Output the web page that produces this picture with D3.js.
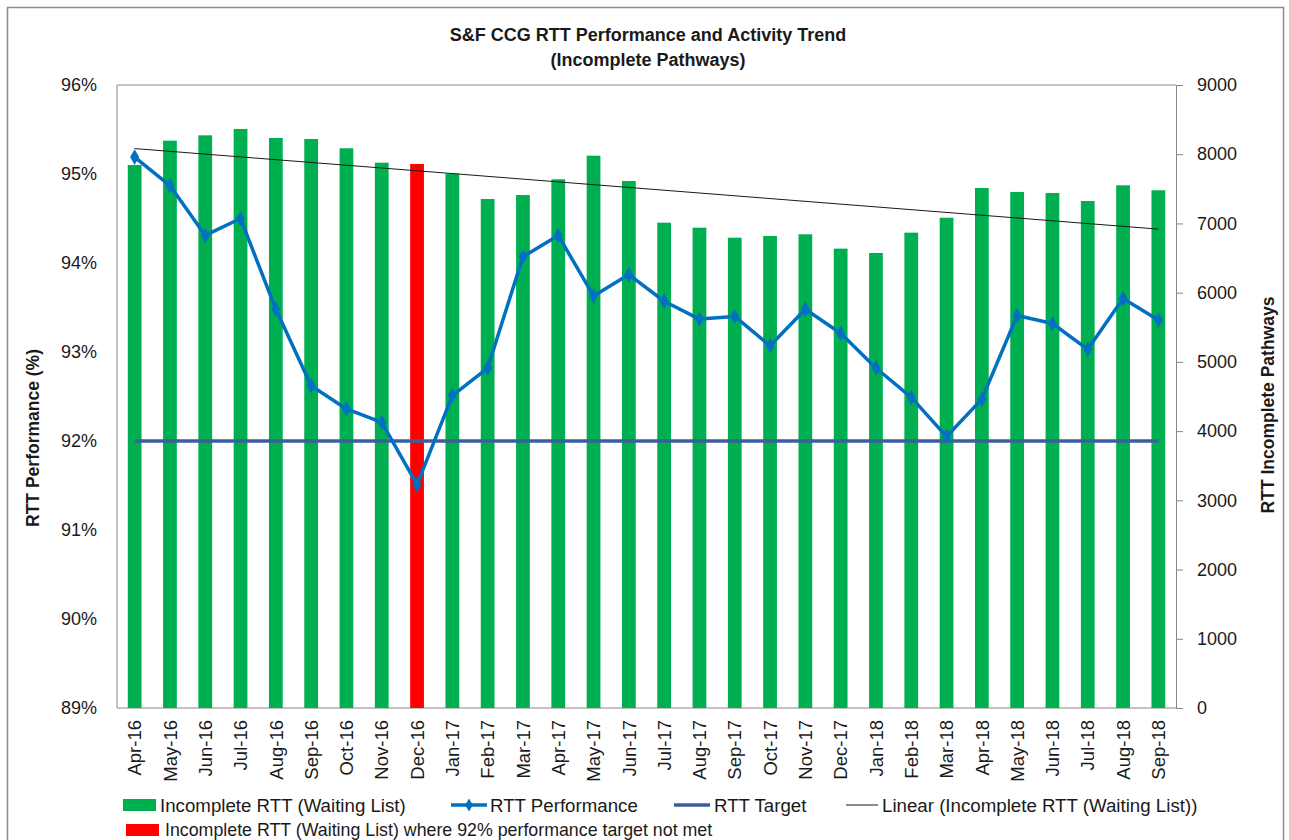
<!DOCTYPE html>
<html>
<head>
<meta charset="utf-8">
<script src="https://cdn.jsdelivr.net/npm/d3@7/dist/d3.min.js"></script>
<style>
  html, body { margin: 0; padding: 0; background: #fff; }
  svg { display: block; font-family: "Liberation Sans", Arial, sans-serif; }
</style>
</head>
<body>
<script>
// ---- Data ----
const categories = ["Apr-16","May-16","Jun-16","Jul-16","Aug-16","Sep-16","Oct-16","Nov-16","Dec-16",
  "Jan-17","Feb-17","Mar-17","Apr-17","May-17","Jun-17","Jul-17","Aug-17","Sep-17","Oct-17","Nov-17","Dec-17",
  "Jan-18","Feb-18","Mar-18","Apr-18","May-18","Jun-18","Jul-18","Aug-18","Sep-18"];
const waitingList = [7844, 8196, 8273, 8365, 8235, 8220, 8086, 7878, 7859, 7719, 7353, 7411,
  7638, 7979, 7613, 7011, 6939, 6794, 6819, 6843, 6636, 6573, 6867, 7083,
  7512, 7455, 7440, 7324, 7551, 7479];
const rttPerformance = [95.19, 94.87, 94.31, 94.50, 93.48, 92.62, 92.36, 92.21, 91.51, 92.51, 92.82, 94.07,
  94.31, 93.63, 93.87, 93.57, 93.37, 93.40, 93.07, 93.48, 93.21, 92.82, 92.49, 92.05,
  92.47, 93.41, 93.32, 93.03, 93.60, 93.36];
const rttTarget = 92;
const leftTicks = [89, 90, 91, 92, 93, 94, 95, 96];
const rightTicks = [0, 1000, 2000, 3000, 4000, 5000, 6000, 7000, 8000, 9000];
const titleLines = ["S&F CCG RTT Performance and Activity Trend", "(Incomplete Pathways)"];
const legendItems = ["Incomplete RTT (Waiting List)", "RTT Performance", "RTT Target",
  "Linear (Incomplete RTT (Waiting List))", "Incomplete RTT (Waiting List) where 92% performance target not met"];

// ---- Layout ----
const W = 1289, H = 840;
const L = 117, R = 1176, T = 85, B = 708;
const GREEN = "#00B050", RED = "#FF0000", BLUE = "#0070C0", NAVY = "#3A5F9A", GRID = "#868686";

const svg = d3.select("body").append("svg").attr("width", W).attr("height", H);

// outer border
svg.append("rect").attr("x", 7.5).attr("y", 7.5).attr("width", 1276).attr("height", 860)
  .attr("fill", "none").attr("stroke", "#8c8c8c").attr("stroke-width", 1.5);

const x = d3.scaleBand().domain(categories).range([L, R]);
const yL = d3.scaleLinear().domain([89, 96]).range([B, T]);
const yR = d3.scaleLinear().domain([0, 9000]).range([B, T]);
const cx = d => x(d) + x.bandwidth() / 2;

// title
svg.append("g").selectAll("text").data(titleLines).join("text")
  .attr("x", 648).attr("y", (d, i) => 41 + i * 25)
  .attr("text-anchor", "middle").attr("font-weight", "bold").attr("font-size", 18)
  .attr("fill", "#1a1a1a").text(d => d);

// plot border (left, top, bottom)
svg.append("path").attr("d", `M${L},${B}V${T}H${R}`).attr("fill", "none").attr("stroke", GRID).attr("stroke-width", 1);
svg.append("line").attr("x1", L).attr("x2", R).attr("y1", B).attr("y2", B).attr("stroke", GRID);

// bars
const barW = x.bandwidth() * 0.39;
svg.append("g").selectAll("rect").data(categories).join("rect")
  .attr("x", d => cx(d) - barW / 2)
  .attr("y", (d, i) => yR(waitingList[i]))
  .attr("width", barW)
  .attr("height", (d, i) => yR(0) - yR(waitingList[i]))
  .attr("fill", (d, i) => rttPerformance[i] < rttTarget ? RED : GREEN);

// trend line (least squares on waiting list)
const n = waitingList.length;
const idx = d3.range(n);
const mx = d3.mean(idx), my = d3.mean(waitingList);
const slope = d3.sum(idx, i => (i - mx) * (waitingList[i] - my)) / d3.sum(idx, i => (i - mx) ** 2);
const icpt = my - slope * mx;
svg.append("line")
  .attr("x1", cx(categories[0])).attr("y1", yR(icpt))
  .attr("x2", cx(categories[n - 1])).attr("y2", yR(icpt + slope * (n - 1)))
  .attr("stroke", "#1a1a1a").attr("stroke-width", 1);

// target line
svg.append("line")
  .attr("x1", cx(categories[0])).attr("x2", cx(categories[n - 1]))
  .attr("y1", yL(rttTarget)).attr("y2", yL(rttTarget))
  .attr("stroke", NAVY).attr("stroke-width", 3.5);

// performance line
const line = d3.line().x((d, i) => cx(categories[i])).y(d => yL(d));
svg.append("path").datum(rttPerformance).attr("d", line)
  .attr("fill", "none").attr("stroke", BLUE).attr("stroke-width", 3.5).attr("stroke-linejoin", "round");
const diamond = d3.symbol().type(d3.symbolDiamond).size(70);
svg.append("g").selectAll("path").data(rttPerformance).join("path")
  .attr("d", diamond)
  .attr("transform", (d, i) => `translate(${cx(categories[i])},${yL(d)})`)
  .attr("fill", BLUE);

// left axis
const gL = svg.append("g").attr("transform", `translate(${L},0)`)
  .call(d3.axisLeft(yL).tickValues(leftTicks).tickFormat(d => d + "%").tickSize(0).tickPadding(20));
gL.select(".domain").remove();
gL.selectAll("text").attr("font-size", 18).attr("fill", "#1a1a1a").attr("font-family", "Liberation Sans, Arial, sans-serif");

// right axis
const gR = svg.append("g").attr("transform", `translate(${R},0)`)
  .call(d3.axisRight(yR).tickValues(rightTicks).tickFormat(d3.format("d")).tickSize(7).tickPadding(14));
gR.select(".domain").attr("stroke", GRID);
gR.selectAll(".tick line").attr("stroke", GRID);
gR.selectAll("text").attr("font-size", 18).attr("fill", "#1a1a1a").attr("font-family", "Liberation Sans, Arial, sans-serif");

// bottom axis labels
const gB = svg.append("g").attr("transform", `translate(0,${B})`)
  .call(d3.axisBottom(x).tickSize(0));
gB.select(".domain").remove();
gB.selectAll("text")
  .attr("transform", "rotate(-90)")
  .attr("x", -12).attr("y", 0).attr("dy", "0.36em")
  .attr("text-anchor", "end")
  .attr("font-size", 18.5).attr("fill", "#1a1a1a").attr("font-family", "Liberation Sans, Arial, sans-serif");

// axis titles
svg.append("text").attr("transform", "translate(39,438) rotate(-90)")
  .attr("text-anchor", "middle").attr("font-weight", "bold").attr("font-size", 17.5)
  .attr("fill", "#1a1a1a").text("RTT Performance (%)");
svg.append("text").attr("transform", "translate(1274,405) rotate(-90)")
  .attr("text-anchor", "middle").attr("font-weight", "bold").attr("font-size", 17.5)
  .attr("fill", "#1a1a1a").text("RTT Incomplete Pathways");

// legend
const lg = svg.append("g").attr("font-size", 18.7).attr("fill", "#1a1a1a");
const r1 = 805, r2 = 830;
lg.append("rect").attr("x", 123).attr("y", r1 - 6).attr("width", 33).attr("height", 12).attr("fill", GREEN);
lg.append("text").attr("x", 160).attr("y", r1).attr("dy", "0.35em").text(legendItems[0]);
lg.append("line").attr("x1", 451).attr("x2", 487).attr("y1", r1).attr("y2", r1).attr("stroke", BLUE).attr("stroke-width", 3.5);
lg.append("path").attr("d", d3.symbol().type(d3.symbolDiamond).size(50)).attr("transform", `translate(469,${r1})`).attr("fill", BLUE);
lg.append("text").attr("x", 490).attr("y", r1).attr("dy", "0.35em").text(legendItems[1]);
lg.append("line").attr("x1", 674).attr("x2", 710).attr("y1", r1).attr("y2", r1).attr("stroke", NAVY).attr("stroke-width", 3.5);
lg.append("text").attr("x", 714).attr("y", r1).attr("dy", "0.35em").text(legendItems[2]);
lg.append("line").attr("x1", 846).attr("x2", 878).attr("y1", r1).attr("y2", r1).attr("stroke", "#1a1a1a").attr("stroke-width", 1);
lg.append("text").attr("x", 882).attr("y", r1).attr("dy", "0.35em").text(legendItems[3]);
lg.append("rect").attr("x", 126).attr("y", r2 - 6).attr("width", 33).attr("height", 12).attr("fill", RED);
lg.append("text").attr("x", 165).attr("y", r2).attr("dy", "0.35em").attr("font-size", 17.8).text(legendItems[4]);
</script>
</body>
</html>
